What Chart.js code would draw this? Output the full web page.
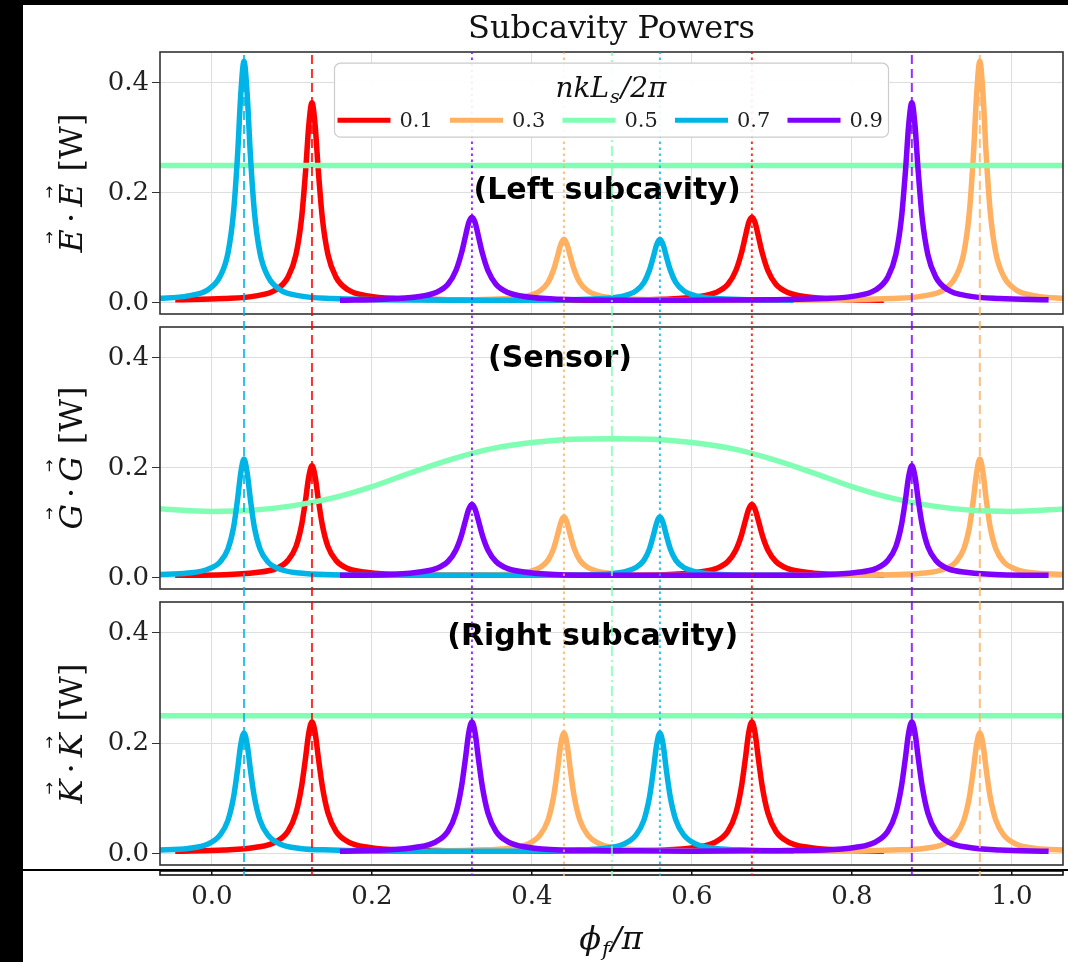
<!DOCTYPE html>
<html>
<head>
<meta charset="utf-8">
<title>Subcavity Powers</title>
<script src="https://cdn.jsdelivr.net/npm/chart.js@4.4.0/dist/chart.umd.min.js"></script>
<style>
  html, body { margin: 0; padding: 0; background: #000; }
  body { width: 1068px; height: 962px; position: relative; overflow: hidden; }
  #sheet { position: absolute; left: 23px; top: 5px; width: 1045px; height: 957px; background: #fff; }
  #sheet canvas { position: absolute; left: 0; }
  #rule { position: absolute; left: 0; top: 864px; width: 1045px; height: 2px; background: #000; }
</style>
</head>
<body>
<div id="sheet">
  <canvas id="left" width="1045" height="322" style="top:17px"></canvas>
  <canvas id="sensor" width="1045" height="322" style="top:292px"></canvas>
  <canvas id="right" width="1045" height="323" style="top:567px"></canvas>
  <canvas id="axis" width="1045" height="102" style="top:855px"></canvas>
  <canvas id="overlay" width="1045" height="957" style="top:0"></canvas>
  <div id="rule"></div>
</div>
<script>
// ---- data ----
const seriesLabels = ['0.1', '0.3', '0.5', '0.7', '0.9'];
const seriesColors = ['#ff0000', '#ffb060', '#80ffb4', '#00b4e6', '#8000ff'];
const xTicks = [0, 0.2, 0.4, 0.6, 0.8, 1.0];
const yTicks = [0, 0.2, 0.4];

// nkLs/2pi = 0.1
const phiRed = [-0.046, 0.015, 0.055, 0.08, 0.095, 0.105, 0.112, 0.117, 0.121, 0.125, 0.129, 0.133, 0.138, 0.145, 0.155, 0.17, 0.195, 0.235, 0.295, 0.4,
  0.505, 0.565, 0.605, 0.63, 0.645, 0.655, 0.662, 0.667, 0.671, 0.675, 0.679, 0.683, 0.688, 0.695, 0.705, 0.72, 0.745, 0.785, 0.84];
const leftRed = [.006, .008, .013, .024, .047, .088, .154, .239, .322, .364, .322, .239, .154, .088, .047, .024, .013, .008, .006, .005,
  .005, .007, .011, .019, .034, .059, .091, .122, .146, .156, .146, .122, .091, .059, .034, .019, .011, .007, .005];
const sensorRed = [.005, .006, .010, .017, .032, .057, .096, .142, .184, .204, .184, .142, .096, .057, .032, .017, .010, .006, .005, .005,
  .005, .006, .010, .017, .030, .051, .078, .105, .125, .134, .125, .105, .078, .051, .030, .017, .010, .006, .005];
const rightRed = [.005, .007, .012, .022, .041, .074, .122, .174, .219, .239, .219, .174, .122, .074, .041, .022, .012, .007, .006, .005,
  .006, .007, .012, .022, .041, .074, .122, .174, .219, .239, .219, .174, .122, .074, .041, .022, .012, .007, .005];

// nkLs/2pi = 0.3
const phiOrange = [0.273, 0.33, 0.37, 0.395, 0.41, 0.42, 0.427, 0.432, 0.436, 0.44, 0.444, 0.448, 0.453, 0.46, 0.47, 0.485, 0.51, 0.55, 0.61,
  0.7, 0.79, 0.85, 0.89, 0.915, 0.93, 0.94, 0.947, 0.952, 0.956, 0.96, 0.964, 0.968, 0.973, 0.98, 0.99, 1.005, 1.03, 1.07];
const leftOrange = [.005, .006, .008, .013, .022, .037, .060, .085, .106, .116, .106, .085, .060, .037, .022, .013, .008, .006, .005,
  .005, .006, .008, .013, .024, .048, .091, .166, .269, .379, .439, .379, .269, .166, .091, .048, .024, .013, .008];
const sensorOrange = [.005, .005, .007, .011, .019, .032, .053, .078, .100, .111, .100, .078, .053, .032, .019, .011, .007, .005, .005,
  .005, .005, .006, .009, .016, .029, .053, .092, .143, .191, .216, .191, .143, .092, .053, .029, .016, .009, .006];
const rightOrange = [.005, .007, .010, .018, .034, .061, .103, .153, .198, .219, .198, .153, .103, .061, .034, .018, .010, .007, .005,
  .005, .005, .007, .010, .018, .034, .061, .103, .153, .198, .219, .198, .153, .103, .061, .034, .018, .010, .007];

// nkLs/2pi = 0.5
const phiGreenFlat = [-0.07, 1.07];
const leftGreen = [0.25, 0.25];
const rightGreen = [0.25, 0.25];
const phiGreen = [-0.07, 0, 0.05, 0.1, 0.15, 0.2, 0.25, 0.3, 0.35, 0.4, 0.45, 0.5, 0.55, 0.6, 0.65, 0.7, 0.75, 0.8, 0.85, 0.9, 0.95, 1.0, 1.07];
const sensorGreen = [.126, .121, .123, .131, .145, .166, .192, .216, .235, .246, .252, .253, .252, .246, .235, .216, .192, .166, .145, .131, .123, .121, .126];

// nkLs/2pi = 0.7
const phiBlue = [-0.07, -0.03, -0.005, 0.01, 0.02, 0.027, 0.032, 0.036, 0.04, 0.044, 0.048, 0.053, 0.06, 0.07, 0.085, 0.11, 0.15, 0.21, 0.3,
  0.39, 0.45, 0.49, 0.515, 0.53, 0.54, 0.547, 0.552, 0.556, 0.56, 0.564, 0.568, 0.573, 0.58, 0.59, 0.605, 0.63, 0.67, 0.727];
const leftBlue = [.008, .013, .024, .048, .091, .166, .269, .379, .439, .379, .269, .166, .091, .048, .024, .013, .008, .006, .005,
  .005, .006, .008, .013, .022, .037, .060, .085, .106, .116, .106, .085, .060, .037, .022, .013, .008, .006, .005];
const sensorBlue = [.006, .009, .016, .029, .053, .092, .143, .191, .216, .191, .143, .092, .053, .029, .016, .009, .006, .005, .005,
  .005, .005, .007, .011, .019, .032, .053, .078, .100, .111, .100, .078, .053, .032, .019, .011, .007, .005, .005];
const rightBlue = [.007, .010, .018, .034, .061, .103, .153, .198, .219, .198, .153, .103, .061, .034, .018, .010, .007, .005, .005,
  .005, .007, .010, .018, .034, .061, .103, .153, .198, .219, .198, .153, .103, .061, .034, .018, .010, .007, .005];

// nkLs/2pi = 0.9
const phiPurple = [0.16, 0.215, 0.255, 0.28, 0.295, 0.305, 0.312, 0.317, 0.321, 0.325, 0.329, 0.333, 0.338, 0.345, 0.355, 0.37, 0.395, 0.435, 0.495, 0.6,
  0.705, 0.765, 0.805, 0.83, 0.845, 0.855, 0.862, 0.867, 0.871, 0.875, 0.879, 0.883, 0.888, 0.895, 0.905, 0.92, 0.945, 0.985, 1.046];
const leftPurple = [.005, .007, .011, .019, .034, .059, .091, .122, .146, .156, .146, .122, .091, .059, .034, .019, .011, .007, .005, .005,
  .006, .008, .013, .024, .047, .088, .154, .239, .322, .364, .322, .239, .154, .088, .047, .024, .013, .008, .006];
const sensorPurple = [.005, .006, .010, .017, .030, .051, .078, .105, .125, .134, .125, .105, .078, .051, .030, .017, .010, .006, .005, .005,
  .005, .006, .010, .017, .032, .057, .096, .142, .184, .204, .184, .142, .096, .057, .032, .017, .010, .006, .005];
const rightPurple = [.005, .007, .012, .022, .041, .074, .122, .174, .219, .239, .219, .174, .122, .074, .041, .022, .012, .007, .006, .005,
  .006, .007, .012, .022, .041, .074, .122, .174, .219, .239, .219, .174, .122, .074, .041, .022, .012, .007, .005];

// resonance markers: first = dashed, second = dotted
const resRed = [0.125, 0.675];
const resOrange = [0.96, 0.44];
const resGreen = [0.5];
const resBlue = [0.04, 0.56];
const resPurple = [0.875, 0.325];

const xMin = -0.065, xMax = 1.064;
const yMin = -0.02, yMax = 0.456;

// ---- drawing ----
const serif = '"DejaVu Serif", serif';
const gridColor = '#dedede';

function vecTitle(ctx, letter, cx, cy) {
  const it = 'italic 32px ' + serif, up = '32px ' + serif;
  const parts = [[letter, it, true], ['\u00b7', up, false], [letter, it, true], ['[W]', up, false]];
  const gaps = [6, 6, 12, 0];
  ctx.save();
  ctx.translate(cx, cy);
  ctx.rotate(-Math.PI / 2);
  ctx.fillStyle = '#111';
  ctx.textBaseline = 'alphabetic';
  let total = 0;
  parts.forEach(([t, f], i) => { ctx.font = f; total += ctx.measureText(t).width + gaps[i]; });
  let u = -total / 2;
  parts.forEach(([t, f, vec], i) => {
    ctx.font = f;
    ctx.textAlign = 'left';
    const w = ctx.measureText(t).width;
    ctx.fillText(t, u, 12);
    if (vec) {
      ctx.font = '15px "DejaVu Sans"';
      ctx.textAlign = 'center';
      ctx.fillText('\u2192', u + w / 2 + 3, -16);
    }
    u += w + gaps[i];
  });
  ctx.restore();
}

const panelDecor = {
  id: 'panelDecor',
  afterDraw(chart, args, opts) {
    const {ctx, chartArea: a} = chart;
    ctx.save();
    ctx.strokeStyle = opts.frame || '#333';
    ctx.lineWidth = 1.6;
    ctx.strokeRect(a.left, a.top, a.width, a.height);
    if (opts.note) {
      ctx.font = 'bold 30px "DejaVu Sans"';
      ctx.fillStyle = '#000';
      ctx.textAlign = 'center';
      ctx.textBaseline = 'middle';
      ctx.fillText(opts.note, chart.scales.x.getPixelForValue(opts.noteAt[0]), chart.scales.y.getPixelForValue(opts.noteAt[1]));
    }
    if (opts.vec) vecTitle(ctx, opts.vec, 47, (a.top + a.bottom) / 2);
    if (opts.xTitle) {
      const parts = [['\u03d5', 'italic 32px ' + serif, 0], ['f', 'italic 21px ' + serif, 7], ['/\u03c0', 'italic 32px ' + serif, 0]];
      let total = 0;
      parts.forEach(([t, f]) => { ctx.font = f; total += ctx.measureText(t).width + 1; });
      let x = (a.left + a.right) / 2 - total / 2;
      ctx.fillStyle = '#111';
      ctx.textAlign = 'left';
      ctx.textBaseline = 'alphabetic';
      parts.forEach(([t, f, dy]) => { ctx.font = f; ctx.fillText(t, x, 89 + dy); x += ctx.measureText(t).width + 1; });
    }
    ctx.restore();
  }
};

const legendDecor = {
  id: 'legendDecor',
  afterDraw(chart) {
    const {ctx, chartArea: a} = chart;
    const w = 554, h = 74;
    const left = (a.left + a.right) / 2 - w / 2, top = a.top + 11;
    ctx.save();
    ctx.beginPath();
    ctx.roundRect(left, top, w, h, 6);
    ctx.fillStyle = 'rgba(255,255,255,0.92)';
    ctx.fill();
    ctx.strokeStyle = '#cccccc';
    ctx.lineWidth = 1.2;
    ctx.stroke();
    // title nkL_s/2pi
    const parts = [['nkL', 'italic 28px ' + serif, 0], ['s', 'italic 19px ' + serif, 6], ['/2\u03c0', 'italic 28px ' + serif, 0]];
    let total = 0;
    parts.forEach(([t, f]) => { ctx.font = f; total += ctx.measureText(t).width + 1; });
    let x = left + w / 2 - total / 2;
    ctx.fillStyle = '#111';
    ctx.textBaseline = 'alphabetic';
    parts.forEach(([t, f, dy]) => { ctx.font = f; ctx.fillText(t, x, top + 34 + dy); x += ctx.measureText(t).width + 1; });
    // entries
    ctx.font = '21px ' + serif;
    ctx.textBaseline = 'middle';
    seriesLabels.forEach((lab, i) => {
      const lx = left + 3 + i * 112.5, ly = top + 57;
      ctx.strokeStyle = seriesColors[i];
      ctx.lineWidth = 5;
      ctx.beginPath();
      ctx.moveTo(lx, ly);
      ctx.lineTo(lx + 53, ly);
      ctx.stroke();
      ctx.fillStyle = '#222';
      ctx.fillText(lab, lx + 62, ly + 1);
    });
    ctx.restore();
  }
};

const fixedTicks = list => s => { s.ticks = list.map(v => ({value: v})); };

function makePanel(id, p) {
  return new Chart(document.getElementById(id), {
    type: 'line',
    data: {
      datasets: p.data.map(([phi, vals], i) => ({
        label: seriesLabels[i],
        order: 5 - i,
        data: phi.map((x, k) => ({x, y: vals[k]})),
        borderColor: seriesColors[i],
        backgroundColor: seriesColors[i],
        borderWidth: 5.5,
        pointRadius: 0,
        cubicInterpolationMode: 'monotone',
        fill: false,
        clip: 0
      }))
    },
    options: {
      responsive: false,
      animation: false,
      events: [],
      layout: { padding: { top: 30, bottom: 30, left: 0, right: 5 } },
      scales: {
        x: {
          type: 'linear', min: xMin, max: xMax,
          afterBuildTicks: fixedTicks(xTicks),
          afterFit: s => { s.height = 0; s.paddingLeft = 0; s.paddingRight = 0; },
          ticks: { display: false },
          grid: { color: gridColor, drawTicks: false },
          border: { display: false }
        },
        y: {
          type: 'linear', min: yMin, max: yMax,
          afterBuildTicks: fixedTicks(yTicks),
          afterFit: s => { s.width = 137; s.paddingTop = 0; s.paddingBottom = 0; },
          ticks: { font: { family: 'DejaVu Serif', size: 26 }, color: '#222', padding: 3, callback: v => v.toFixed(1) },
          grid: { color: gridColor, tickLength: 8, tickColor: '#333' },
          border: { display: false }
        }
      },
      plugins: {
        legend: { display: false },
        tooltip: { enabled: false },
        panelDecor: { vec: p.vec, note: p.note, noteAt: p.noteAt }
      }
    },
    plugins: [panelDecor]
  });
}

makePanel('left', {
  vec: 'E', note: '(Left subcavity)', noteAt: [0.494, 0.203],
  data: [[phiRed, leftRed], [phiOrange, leftOrange], [phiGreenFlat, leftGreen], [phiBlue, leftBlue], [phiPurple, leftPurple]]
});
makePanel('sensor', {
  vec: 'G', note: '(Sensor)', noteAt: [0.435, 0.397],
  data: [[phiRed, sensorRed], [phiOrange, sensorOrange], [phiGreen, sensorGreen], [phiBlue, sensorBlue], [phiPurple, sensorPurple]]
});
makePanel('right', {
  vec: 'K', note: '(Right subcavity)', noteAt: [0.476, 0.393],
  data: [[phiRed, rightRed], [phiOrange, rightOrange], [phiGreenFlat, rightGreen], [phiBlue, rightBlue], [phiPurple, rightPurple]]
});

// shared x axis strip below the panels
new Chart(document.getElementById('axis'), {
  type: 'line',
  data: { datasets: [] },
  options: {
    responsive: false,
    animation: false,
    events: [],
    layout: { padding: { top: 11, bottom: 0, left: 137, right: 5 } },
    scales: {
      x: {
        type: 'linear', min: xMin, max: xMax,
        afterBuildTicks: fixedTicks(xTicks),
        afterFit: s => { s.height = 87; s.paddingLeft = 0; s.paddingRight = 0; },
        ticks: { font: { family: 'DejaVu Serif', size: 26 }, color: '#222', padding: 7, callback: v => v.toFixed(1) },
        grid: { color: '#111', lineWidth: 1.5, drawTicks: false },
        border: { display: false }
      },
      y: { min: 0, max: 1, display: false }
    },
    plugins: {
      legend: { display: false },
      tooltip: { enabled: false },
      panelDecor: { frame: '#111', xTitle: true }
    }
  },
  plugins: [panelDecor]
});

// resonance markers across all panels, title and legend
const dashFor = (k, j) => k === 2 ? [10, 4, 2, 4] : (j === 0 ? [9, 5] : [2.5, 3.5]);
const markers = [];
[resRed, resOrange, resGreen, resBlue, resPurple].forEach((res, k) => {
  res.forEach((x, j) => markers.push({
    label: seriesLabels[k],
    data: [{x, y: 0}, {x, y: 1}],
    borderColor: seriesColors[k] + 'd0',
    borderWidth: 2,
    borderDash: dashFor(k, j),
    pointRadius: 0
  }));
});

new Chart(document.getElementById('overlay'), {
  type: 'line',
  data: { datasets: markers },
  options: {
    responsive: false,
    animation: false,
    events: [],
    layout: { padding: { top: 0, bottom: 86, left: 137, right: 5 } },
    scales: {
      x: { type: 'linear', min: xMin, max: xMax, display: false },
      y: { min: 0, max: 1, display: false }
    },
    plugins: {
      legend: { display: false },
      tooltip: { enabled: false },
      title: {
        display: true, text: 'Subcavity Powers', color: '#111',
        font: { family: 'DejaVu Serif', size: 32, weight: 'normal', lineHeight: 1.1 },
        padding: { top: 7, bottom: 5 }
      }
    }
  },
  plugins: [legendDecor]
});
</script>
</body>
</html>
